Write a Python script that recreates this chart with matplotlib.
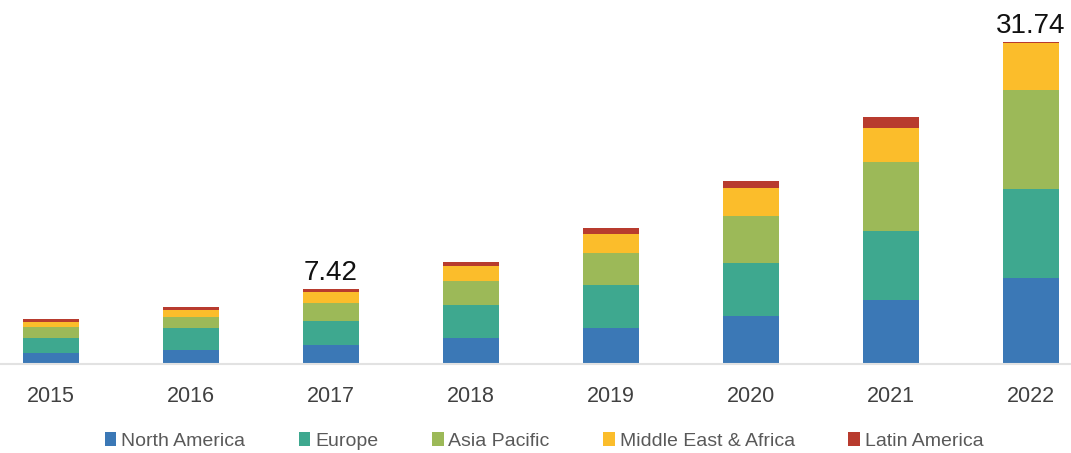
import matplotlib.pyplot as plt
import numpy as np

years = ['2015', '2016', '2017', '2018', '2019', '2020', '2021', '2022']
regions = ['North America', 'Europe', 'Asia Pacific', 'Middle East & Africa', 'Latin America']
north_america = [1.08, 1.38, 1.92, 2.56, 3.55, 4.73, 6.31, 8.47]
europe = [1.48, 2.17, 2.32, 3.25, 4.24, 5.22, 6.80, 8.77]
asia_pacific = [1.08, 1.08, 1.75, 2.36, 3.15, 4.63, 6.80, 9.75]
middle_east_africa = [0.50, 0.69, 1.07, 1.48, 1.87, 2.76, 3.35, 4.63]
latin_america = [0.30, 0.30, 0.36, 0.39, 0.59, 0.69, 1.08, 0.12]
labels = {2: '7.42', 7: '31.74'}
colors = ['#3b78b6', '#3ea88f', '#9cb958', '#fbbd2b', '#b83b2e']

plt.rcParams['font.family'] = ['Liberation Sans', 'DejaVu Sans']

fig = plt.figure(figsize=(10.71, 4.53), dpi=100)
ax = fig.add_axes([0.0, 1 - 364 / 453, 1.0, (364 - 18) / 453])

x = np.arange(len(years))
bottom = np.zeros(len(years))
series = [north_america, europe, asia_pacific, middle_east_africa, latin_america]
for vals, name, c in zip(series, regions, colors):
    ax.bar(x, vals, 0.4, bottom=bottom, color=c, label=name)
    bottom += np.array(vals)

for i, t in labels.items():
    ax.text(x[i], bottom[i] + 0.3, t, ha='center', va='bottom', fontsize=20, color='#111111')

ax.set_xlim(-51 / 140, (1071 - 51) / 140)
ax.set_ylim(0, (364 - 18) / 10.15)
for s in ['top', 'right', 'left']:
    ax.spines[s].set_visible(False)
ax.spines['bottom'].set_color('#e2e2e2')
ax.spines['bottom'].set_linewidth(1.5)
ax.set_yticks([])
ax.set_xticks(x)
ax.set_xticklabels(years, fontsize=15.5, color='#404040')
ax.tick_params(axis='x', length=0, pad=16)

leg = fig.legend(loc='center', bbox_to_anchor=(0.508, 1 - 441 / 453), ncol=5, frameon=False,
                 fontsize=14, handlelength=0.6, handleheight=0.7, handletextpad=0.25, columnspacing=2.75)
for t in leg.get_texts():
    t.set_color('#595959')

fig.savefig('out.png', dpi=100)
